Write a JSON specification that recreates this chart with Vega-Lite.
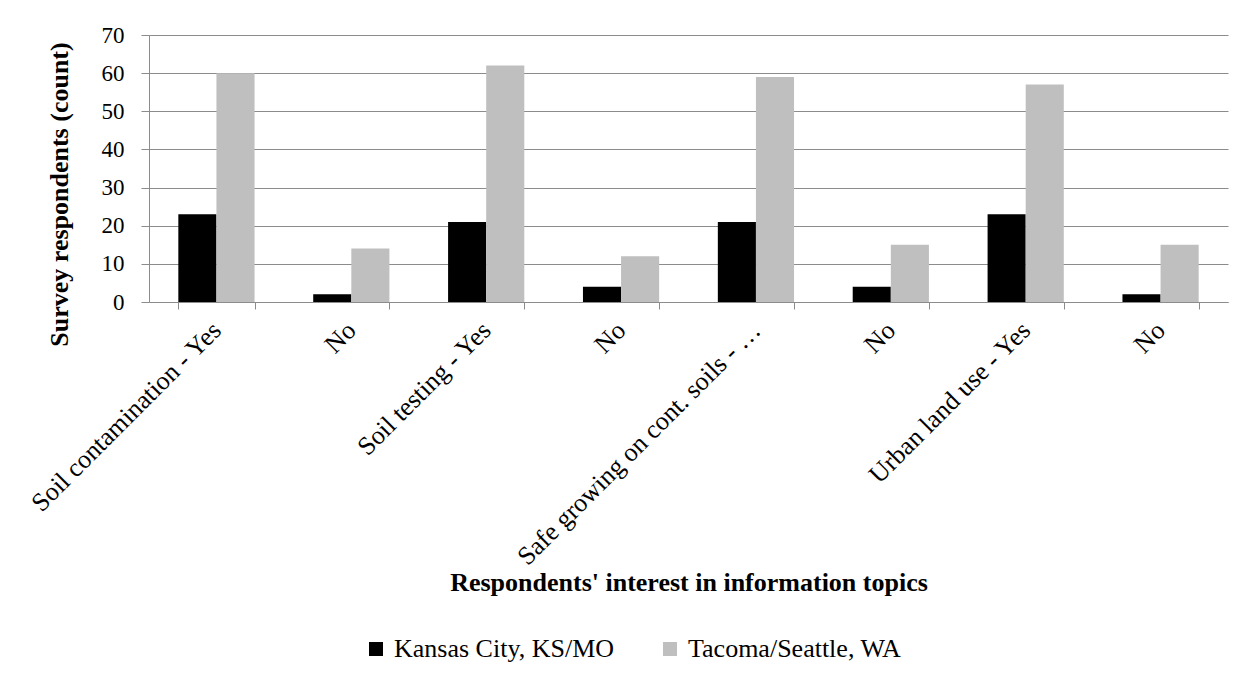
{
  "$schema": "https://vega.github.io/schema/vega-lite/v6.json",
  "width": 1079,
  "height": 267,
  "autosize": {"type": "none"},
  "padding": {"left": 149, "top": 35, "right": 20, "bottom": 385},
  "background": "white",
  "data": {
    "values": [
      {"cat": "Soil contamination - Yes|1", "city": "Kansas City, KS/MO", "count": 23},
      {"cat": "Soil contamination - Yes|1", "city": "Tacoma/Seattle, WA", "count": 60},
      {"cat": "No|2", "city": "Kansas City, KS/MO", "count": 2},
      {"cat": "No|2", "city": "Tacoma/Seattle, WA", "count": 14},
      {"cat": "Soil testing - Yes|3", "city": "Kansas City, KS/MO", "count": 21},
      {"cat": "Soil testing - Yes|3", "city": "Tacoma/Seattle, WA", "count": 62},
      {"cat": "No|4", "city": "Kansas City, KS/MO", "count": 4},
      {"cat": "No|4", "city": "Tacoma/Seattle, WA", "count": 12},
      {"cat": "Safe growing on cont. soils - …|5", "city": "Kansas City, KS/MO", "count": 21},
      {"cat": "Safe growing on cont. soils - …|5", "city": "Tacoma/Seattle, WA", "count": 59},
      {"cat": "No|6", "city": "Kansas City, KS/MO", "count": 4},
      {"cat": "No|6", "city": "Tacoma/Seattle, WA", "count": 15},
      {"cat": "Urban land use - Yes|7", "city": "Kansas City, KS/MO", "count": 23},
      {"cat": "Urban land use - Yes|7", "city": "Tacoma/Seattle, WA", "count": 57},
      {"cat": "No|8", "city": "Kansas City, KS/MO", "count": 2},
      {"cat": "No|8", "city": "Tacoma/Seattle, WA", "count": 15}
    ]
  },
  "mark": {"type": "bar"},
  "encoding": {
    "x": {
      "field": "cat",
      "type": "nominal",
      "sort": null,
      "scale": {"paddingInner": 0.435, "paddingOuter": 0.2175},
      "axis": {
        "title": "Respondents' interest in information topics",
        "titleFont": "Liberation Serif",
        "titleFontSize": 26,
        "titleFontWeight": "bold",
        "titleColor": "black",
        "titleY": 280,
        "titleBaseline": "middle",
        "labelExpr": "split(datum.label, '|')[0]",
        "labelAngle": -45,
        "labelAlign": "right",
        "labelBaseline": "middle",
        "labelFont": "Liberation Serif",
        "labelFontSize": 26,
        "labelColor": "black",
        "labelPadding": 17,
        "labelLimit": 0,
        "tickBand": "extent",
        "tickColor": "#8c8c8c",
        "tickSize": 7,
        "domainColor": "#8c8c8c",
        "grid": false
      }
    },
    "xOffset": {"field": "city", "type": "nominal", "scale": {"paddingInner": 0}},
    "y": {
      "field": "count",
      "type": "quantitative",
      "scale": {"domain": [0, 70]},
      "axis": {
        "title": "Survey respondents (count)",
        "titleFont": "Liberation Serif",
        "titleFontSize": 26,
        "titleFontWeight": "bold",
        "titleColor": "black",
        "titleX": -90,
        "titleY": 159,
        "titleAngle": -90,
        "titleAlign": "center",
        "titleBaseline": "middle",
        "values": [0, 10, 20, 30, 40, 50, 60, 70],
        "labelFont": "Liberation Serif",
        "labelFontSize": 23,
        "labelColor": "black",
        "labelPadding": 17,
        "tickColor": "#8c8c8c",
        "tickSize": 8,
        "domainColor": "#8c8c8c",
        "gridColor": "#8c8c8c",
        "gridWidth": 1
      }
    },
    "color": {
      "field": "city",
      "type": "nominal",
      "scale": {"domain": ["Kansas City, KS/MO", "Tacoma/Seattle, WA"], "range": ["#000000", "#bfbfbf"]},
      "legend": {
        "title": null,
        "orient": "none",
        "legendX": 214,
        "legendY": 601,
        "direction": "horizontal",
        "symbolType": "square",
        "symbolSize": 196,
        "symbolStrokeWidth": 0,
        "labelFont": "Liberation Serif",
        "labelFontSize": 26,
        "labelColor": "black",
        "labelOffset": 5,
        "columnPadding": 42,
        "labelLimit": 0
      }
    }
  },
  "config": {"view": {"stroke": null}}
}
